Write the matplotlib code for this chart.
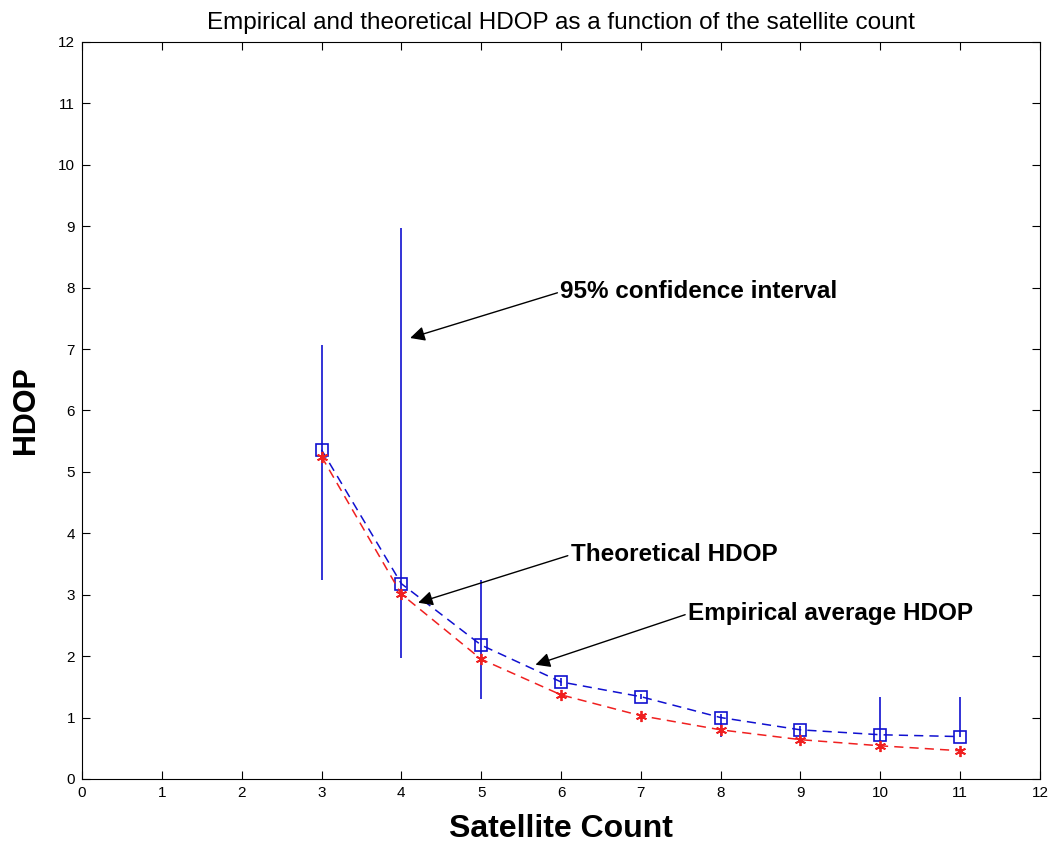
import numpy as np
import matplotlib
matplotlib.use("Agg")
import matplotlib.pyplot as plt

plt.rcParams["font.family"] = ["Liberation Sans", "DejaVu Sans"]

# satellite count
sat_count = [3, 4, 5, 6, 7, 8, 9, 10, 11]
# empirical average HDOP (blue squares)
empirical = [5.36, 3.18, 2.18, 1.58, 1.34, 1.00, 0.80, 0.72, 0.69]
# theoretical HDOP (red stars)
theoretical = [5.25, 3.01, 1.95, 1.37, 1.03, 0.80, 0.64, 0.54, 0.46]
# 95% confidence interval bounds
ci_low = [3.24, 1.97, 1.31, 1.52, 1.30, 0.69, 0.66, 0.60, 0.69]
ci_high = [7.07, 8.97, 3.24, 1.64, 1.38, 1.05, 0.86, 1.34, 1.34]


def main():
    fig = plt.figure(figsize=(10.6, 8.48), dpi=100)
    ax = fig.add_axes([0.0774, 0.0814, 0.9037, 0.8691])

    x = np.array(sat_count)
    emp = np.array(empirical)
    ax.vlines(x, ci_low, ci_high, colors="#1010d0", lw=1.2, zorder=2)

    ax.plot(x, emp, color="#1010d0", ls=(0, (6, 4)), lw=1.1,
            marker="s", ms=8, mfc="none", mec="#1010d0", mew=1.2, zorder=3)
    ax.plot(x, theoretical, color="#f02020", ls=(0, (6, 4)), lw=1.1,
            marker=(6, 2, 0), ms=8, mec="#f02020", mew=1.3, zorder=3)

    ax.set_xlim(0, 12)
    ax.set_ylim(0, 12)
    ax.set_xticks(range(0, 13))
    ax.set_yticks(range(0, 13))
    ax.tick_params(direction="in", top=True, right=True, length=6,
                   labelsize=11, pad=5)

    ax.set_title("Empirical and theoretical HDOP as a function of the satellite count",
                 fontsize=17.5, pad=9)
    ax.set_xlabel("Satellite Count", fontsize=23, fontweight="bold", labelpad=10)
    ax.set_ylabel("HDOP", fontsize=22, fontweight="bold", labelpad=12)

    arrow = dict(arrowstyle="-|>", color="black", lw=1.0, mutation_scale=22,
                 shrinkA=0, shrinkB=0, relpos=(0, 0.5))
    ax.annotate("95% confidence interval", xy=(4.11, 7.18), xytext=(5.99, 7.93),
                fontsize=17.5, fontweight="bold", ha="left", va="center",
                arrowprops=arrow)
    ax.annotate("Theoretical HDOP", xy=(4.21, 2.87), xytext=(6.12, 3.65),
                fontsize=17.5, fontweight="bold", ha="left", va="center",
                arrowprops=arrow)
    ax.annotate("Empirical average HDOP", xy=(5.68, 1.86), xytext=(7.59, 2.69),
                fontsize=17.5, fontweight="bold", ha="left", va="center",
                arrowprops=arrow)

    fig.savefig("out.png", dpi=100)
    plt.close(fig)


if __name__ == "__main__":
    main()
